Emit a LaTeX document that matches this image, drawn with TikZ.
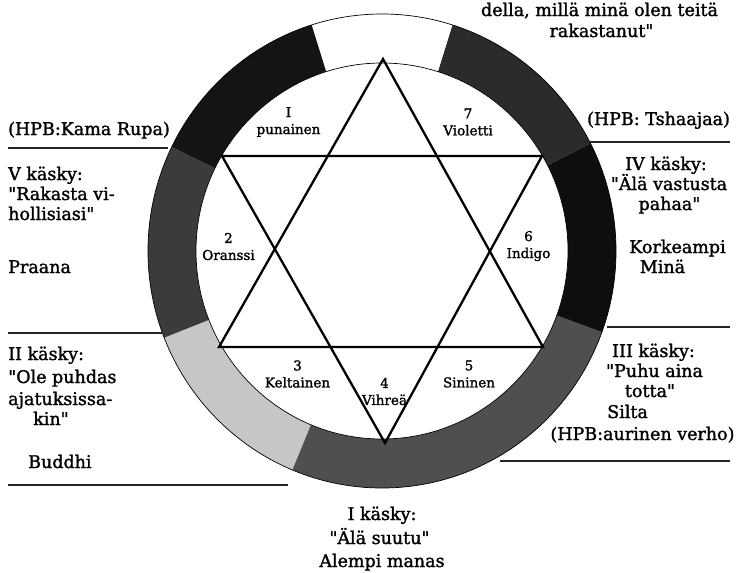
\documentclass[tikz,border=0pt]{standalone}
\usepackage{fontspec}
\setmainfont{DejaVu Serif}[FakeBold=1.5]
\newcommand\bigtxt{\fontsize{17.5}{20}\selectfont}
\newcommand\smalltxt{\fontsize{13.5}{17}\selectfont}
\newcommand\qq{\textquotedbl}
\definecolor{blkA}{HTML}{141414}
\definecolor{blkB}{HTML}{0E0E0E}
\definecolor{dgA}{HTML}{2B2B2B}
\definecolor{dgB}{HTML}{3B3B3B}
\definecolor{lgC}{HTML}{C6C6C6}
\definecolor{tgD}{HTML}{4F4F4F}
\begin{document}
\begin{tikzpicture}[x=1pt,y=1pt,yscale=-1,
  lbl/.style={inner sep=0pt, font=\bigtxt},
  slbl/.style={inner sep=0pt, font=\smalltxt, align=center},
  rulebar/.style={line width=1.1pt, draw=black!85},
  starline/.style={line width=2.3pt, line join=miter},
  ringline/.style={line width=0.7pt}]
\useasboundingbox (0,0) rectangle (737,573);
\fill[white] (0,0) rectangle (737,573);
\coordinate (C) at (382,251);
% ring segments
\begin{scope}[shift={(C)}]
\foreach \a/\b/\c in {-72.5/-27/dgA, -107.5/-72.5/white, -154/-107.5/blkA,
   -201.5/-154/dgB, -247.5/-201.5/lgC, -340/-247.5/tgD, -27/20/blkB}
  \fill[\c] (0,0) -- (\a:234 and 237) arc[start angle=\a, end angle=\b, x radius=234, y radius=237] -- cycle;
\end{scope}
\draw[ringline] (C) ellipse [x radius=234, y radius=237];
\filldraw[fill=white, ringline] (C) ellipse [x radius=186, y radius=188];
% star
\coordinate (T1) at (383,59);
\coordinate (T2) at (219,347);
\coordinate (T3) at (543,347);
\coordinate (D1) at (222,156);
\coordinate (D2) at (542,156);
\coordinate (D3) at (385,443);
\draw[starline] (T1) -- (T2) -- (T3) -- cycle;
\draw[starline] (D1) -- (D2) -- (D3) -- cycle;
% star labels
\node[slbl] (s1) at (288.5,122) {I\\punainen};
\node[slbl] (s7) at (468,122) {7\\Violetti};
\node[slbl] (s2) at (228.5,246.5) {2\\Oranssi};
\node[slbl] (s6) at (528.5,246) {6\\Indigo};
\node[slbl] (s3) at (297.5,374) {3\\Keltainen};
\node[slbl] (s4) at (384.5,391.5) {4\\Vihreä};
\node[slbl] (s5) at (469,374) {5\\Sininen};
% rules
\coordinate (r1a) at (8,148);   \coordinate (r1b) at (168,148);
\coordinate (r2a) at (8,333);   \coordinate (r2b) at (163,333);
\coordinate (r3a) at (8,485);   \coordinate (r3b) at (288,485);
\coordinate (r4a) at (590,142); \coordinate (r4b) at (730,142);
\coordinate (r5a) at (607,327); \coordinate (r5b) at (730,327);
\coordinate (r6a) at (500,461); \coordinate (r6b) at (730,461);
\draw[rulebar] (r1a) -- (r1b);
\draw[rulebar] (r2a) -- (r2b);
\draw[rulebar] (r3a) -- (r3b);
\draw[rulebar] (r4a) -- (r4b);
\draw[rulebar] (r5a) -- (r5b);
\draw[rulebar] (r6a) -- (r6b);
% left texts
\node[lbl, anchor=base west] (l1) at (8,135) {(HPB:Kama Rupa)};
\node[lbl, anchor=base west] (l2) at (8,180) {V käsky:};
\node[lbl, anchor=base west] (l3) at (8,200) {\qq Rakasta vi-};
\node[lbl, anchor=base west] (l4) at (8,220) {hollisiasi\qq};
\node[lbl, anchor=base west] (l5) at (8,273) {Praana};
\node[lbl, anchor=base west] (l6) at (8,360) {II käsky:};
\node[lbl, anchor=base west] (l7) at (8,383) {\qq Ole puhdas};
\node[lbl, anchor=base west] (l8) at (8,405) {ajatuksissa-};
\node[lbl, anchor=base west] (l9) at (33,425) {kin\qq};
\node[lbl, anchor=base west] (l10) at (28,468) {Buddhi};
% right texts
\node[lbl, anchor=base] (q1) at (658.5,125) {(HPB: Tshaajaa)};
\node[lbl, anchor=base] (q2) at (666,170) {IV käsky:};
\node[lbl, anchor=base] (q3) at (669,190) {\qq Älä vastusta};
\node[lbl, anchor=base] (q4) at (669.5,210) {pahaa\qq};
\node[lbl, anchor=base] (q5) at (677.5,253) {Korkeampi};
\node[lbl, anchor=base] (q6) at (662.5,273) {Minä};
\node[lbl, anchor=base] (q7) at (653.5,357) {III käsky:};
\node[lbl, anchor=base] (q8) at (654.5,377) {\qq Puhu aina};
\node[lbl, anchor=base] (q9) at (650,397) {totta\qq};
\node[lbl, anchor=base west] (q10) at (607,418) {Silta};
\node[lbl, anchor=base] (q11) at (642.5,440) {(HPB:aurinen verho)};
% top texts
\node[lbl, anchor=base] (t1) at (599.5,16) {della, millä minä olen teitä};
\node[lbl, anchor=base] (t2) at (601.5,37) {rakastanut\qq};
% bottom texts
\node[lbl, anchor=base] (b1) at (382,520) {I käsky:};
\node[lbl, anchor=base] (b2) at (379.5,544) {\qq Älä suutu\qq};
\node[lbl, anchor=base] (b3) at (382,567) {Alempi manas};
\end{tikzpicture}
\end{document}
